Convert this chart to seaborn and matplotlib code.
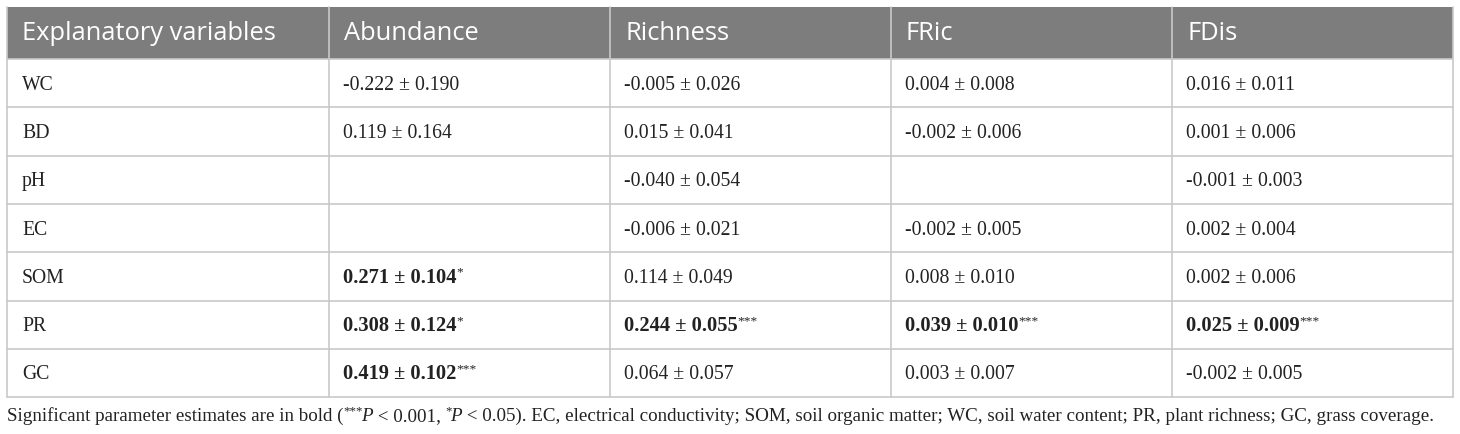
import numpy as np
import matplotlib.pyplot as plt
import seaborn as sns

# ===============================
# Table data
# ===============================
variables = ["WC", "BD", "pH", "EC", "SOM", "PR", "GC"]
headers = ["Explanatory variables", "Abundance", "Richness", "FRic", "FDis"]

abundance_est = [-0.222, 0.119, np.nan, np.nan, 0.271, 0.308, 0.419]
abundance_se = [0.190, 0.164, np.nan, np.nan, 0.104, 0.124, 0.102]
abundance_sig = ["", "", "", "", "*", "*", "***"]

richness_est = [-0.005, 0.015, -0.040, -0.006, 0.114, 0.244, 0.064]
richness_se = [0.026, 0.041, 0.054, 0.021, 0.049, 0.055, 0.057]
richness_sig = ["", "", "", "", "", "***", ""]

fric_est = [0.004, -0.002, np.nan, -0.002, 0.008, 0.039, 0.003]
fric_se = [0.008, 0.006, np.nan, 0.005, 0.010, 0.010, 0.007]
fric_sig = ["", "", "", "", "", "***", ""]

fdis_est = [0.016, 0.001, -0.001, 0.002, 0.002, 0.025, -0.002]
fdis_se = [0.011, 0.006, 0.003, 0.004, 0.006, 0.009, 0.005]
fdis_sig = ["", "", "", "", "", "***", ""]

footnote = [
    ("Significant parameter estimates are in bold (", "normal", False),
    ("***", "normal", True),
    ("P", "italic", False),
    (" < 0.001, ", "normal", False),
    ("*", "normal", True),
    ("P", "italic", False),
    (" < 0.05). EC, electrical conductivity; SOM, soil organic matter; "
     "WC, soil water content; PR, plant richness; GC, grass coverage.", "normal", False),
]

columns = [
    (abundance_est, abundance_se, abundance_sig),
    (richness_est, richness_se, richness_sig),
    (fric_est, fric_se, fric_sig),
    (fdis_est, fdis_se, fdis_sig),
]

# ===============================
# Layout
# ===============================
sns.set_theme(style="white")
plt.rcParams["font.family"] = ["Liberation Serif", "DejaVu Serif"]

W, H = 1460, 434
fig = plt.figure(figsize=(W / 100, H / 100), dpi=100)
ax = fig.add_axes([0, 0, 1, 1])
ax.set_xlim(0, W)
ax.set_ylim(H, 0)
ax.axis("off")

col_edges = [7, 329, 610, 891, 1172, 1453]
head_top, head_bot = 7, 59
row_h = 48.3
n_rows = len(variables)
table_bot = head_bot + n_rows * row_h
line_col = "#c9c9c9"
body_size = 14.2
pad = 14

fig.canvas.draw()
renderer = fig.canvas.get_renderer()


def rich_text(x, y, pieces, size, gap=1):
    # pieces: (text, style, superscript?) drawn one after another on a baseline
    for txt, style, sup in pieces:
        weight = "bold" if style == "bold" else "normal"
        fstyle = "italic" if style == "italic" else "normal"
        s = size * 0.68 if sup else size
        if style == "bold":
            s = size * 1.04
        yy = y - size * 0.5 if sup else y
        t = ax.text(x, yy, txt, fontsize=s, fontweight=weight, fontstyle=fstyle,
                    va="baseline", ha="left", color="#222222")
        bb = t.get_window_extent(renderer=renderer)
        x = ax.transData.inverted().transform((bb.x1, 0))[0] + (gap if sup else 0)


# header
ax.fill_between([col_edges[0], col_edges[-1]], head_top, head_bot, color="#7d7d7d", lw=0)
for j, h in enumerate(headers):
    ax.text(col_edges[j] + 15, (head_top + head_bot) / 2 + 1, h, fontsize=18.4,
            family=["Open Sans", "DejaVu Sans"], color="white", va="center", ha="left")

# grid lines
for i in range(n_rows + 1):
    y = head_bot + i * row_h
    ax.plot([col_edges[0], col_edges[-1]], [y, y], color=line_col, lw=1.2)
for x in col_edges:
    ax.plot([x, x], [head_top, table_bot], color=line_col, lw=1.2)

# body
for i, var in enumerate(variables):
    base = head_bot + (i + 0.5) * row_h + 6.5
    rich_text(col_edges[0] + 15, base, [(var, "normal", False)], body_size)
    for j, (est, se, sig) in enumerate(columns):
        if np.isnan(est[i]):
            continue
        style = "bold" if sig[i] else "normal"
        pieces = [(f"{est[i]:.3f} ± {se[i]:.3f}", style, False)]
        if sig[i]:
            pieces.append((sig[i], "normal", True))
        rich_text(col_edges[j + 1] + pad, base, pieces, body_size)

# footnote
rich_text(7, table_bot + 24, footnote, 13.7, gap=-2)

plt.savefig("out.png", dpi=100)
